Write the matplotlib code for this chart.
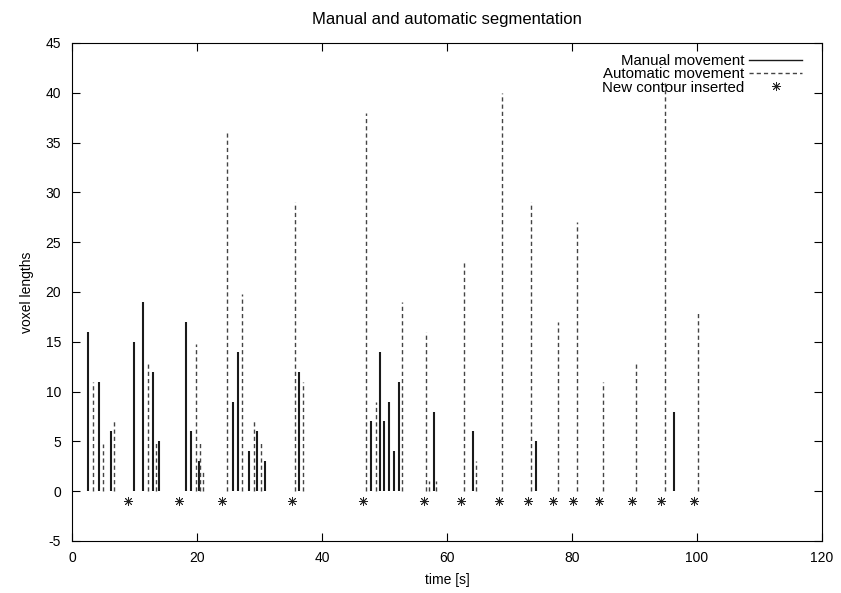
import matplotlib
matplotlib.use("Agg")
import matplotlib.pyplot as plt
from matplotlib.lines import Line2D

plt.rcParams['font.family'] = ['Liberation Sans', 'DejaVu Sans']
plt.rcParams['font.size'] = 10
plt.rcParams['axes.unicode_minus'] = False

# manual movements (solid impulses)
manual_t = [2.5, 4.3, 6.2, 9.9, 11.3, 12.9, 14.0, 18.2, 19.1, 20.3, 25.7, 26.6,
            28.3, 29.6, 30.9, 36.3, 47.9, 49.3, 50.0, 50.7, 51.5, 52.3, 57.9,
            64.1, 74.2, 96.3]
manual_len = [16, 11, 6, 15, 19, 12, 5, 17, 6, 3, 9, 14,
              4, 6, 3, 12, 7, 14, 7, 9, 4, 11, 8,
              6, 5, 8]

# automatic movements (dashed impulses)
auto_t = [3.4, 4.9, 6.7, 12.2, 13.4, 19.8, 20.5, 21.0, 24.8, 27.2, 29.1, 30.3,
          35.7, 36.9, 47.0, 48.6, 52.8, 56.7, 57.2, 58.3, 62.8, 64.7, 68.8,
          73.4, 77.7, 80.8, 85.0, 90.2, 94.9, 100.2]
auto_len = [11, 4.7, 7, 13, 4.8, 14.8, 4.8, 2, 36, 19.8, 7, 4.8,
            29, 11, 38, 9, 19, 16, 1, 1, 23, 3, 40,
            29, 17, 27, 11, 13, 41, 18]

# new contour inserted
contour_t = [9.0, 17.1, 24.0, 35.2, 46.6, 56.3, 62.2, 68.3, 72.9, 77.0,
             80.2, 84.3, 89.6, 94.2, 99.5]
contour_y = [-1] * len(contour_t)

fig = plt.figure(figsize=(8.41, 5.93), dpi=100)
ax = fig.add_axes([0.0856, 0.0877, 0.8918, 0.8398])

dash = (0, (3.0, 2.2))
ax.vlines(manual_t, 0, manual_len, colors='#1a1a1a', linewidth=1.5)
ax.vlines(auto_t, 0, auto_len, colors='#444444', linewidth=1.0, linestyles=dash)
ax.plot(contour_t, contour_y, linestyle='none', marker=(8, 2, 0),
        markersize=6.5, markeredgewidth=0.6, color='#222222')

ax.set_xlim(0, 120)
ax.set_ylim(-5, 45)
ax.set_xticks(range(0, 121, 20))
ax.set_yticks(range(-5, 46, 5))
ax.tick_params(direction='in', length=6, width=0.8, top=True, right=True)
ax.tick_params(axis='y', pad=8)
ax.tick_params(axis='x', pad=7)

ax.set_title("Manual and automatic segmentation", pad=14)
ax.set_xlabel("time [s]", labelpad=6)
ax.set_ylabel("voxel lengths", labelpad=8)

handles = [
    Line2D([], [], color='#1a1a1a', linewidth=1.0),
    Line2D([], [], color='#444444', linewidth=1.0, linestyle=dash),
    Line2D([], [], linestyle='none', marker=(8, 2, 0), markersize=6.5,
           markeredgewidth=0.6, color='#222222'),
]
labels = ["Manual movement", "Automatic movement", "New contour inserted"]
ax.legend(handles, labels, loc='upper right', frameon=False, markerfirst=False,
          fontsize=10.8, handlelength=3.5, handletextpad=0.35,
          labelspacing=-0.04, borderaxespad=0, borderpad=0,
          bbox_to_anchor=(0.9733, 0.978))

plt.savefig("out.png", dpi=100)
